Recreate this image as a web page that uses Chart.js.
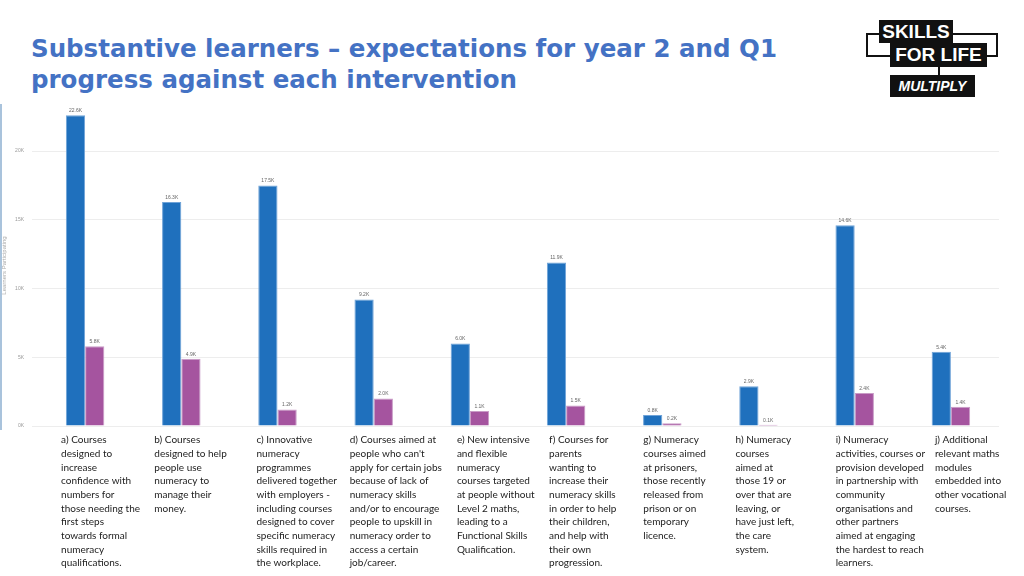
<!DOCTYPE html>
<html>
<head>
<meta charset="utf-8">
<script src="https://cdn.jsdelivr.net/npm/chart.js@4"></script>
<style>
  body { margin: 0; width: 1024px; height: 576px; background: #fff; position: relative; overflow: hidden; }
  #title { position: absolute; left: 31px; top: 33px; font-family: "DejaVu Sans", sans-serif; font-weight: bold;
           font-size: 24.5px; line-height: 31px; color: #4472c4; letter-spacing: 0; }
  #edge { position: absolute; left: 0; top: 104px; width: 2px; height: 326px; background: #a9c3dc; }
  #wrap { position: absolute; left: 0; top: 100px; width: 1024px; height: 476px; }
  .logo { position: absolute; font-family: "Liberation Sans", sans-serif; font-weight: bold; color: #fff; background: #111;
          text-align: center; }
</style>
</head>
<body>
<div id="title">Substantive learners – expectations for year 2 and Q1<br>progress against each intervention</div>
<div id="edge"></div>

<!-- logo -->
<div style="position:absolute;left:866px;top:33px;width:128px;height:20px;border:2px solid #111;"></div>
<div style="position:absolute;left:938px;top:66px;width:2px;height:10px;background:#111;"></div>
<div class="logo" style="left:879px;top:20px;width:74px;height:23px;font-size:19px;line-height:23px;">SKILLS</div>
<div class="logo" style="left:890px;top:43px;width:97px;height:24px;font-size:19px;line-height:24px;">FOR LIFE</div>
<div class="logo" style="left:890px;top:75px;width:85px;height:22px;font-size:14px;line-height:22px;font-style:italic;">MULTIPLY</div>

<div id="wrap"><canvas id="myChart"></canvas></div>

<script>
const categories = [
    ["a) Courses", "designed to", "increase", "confidence with", "numbers for", "those needing the", "first steps", "towards formal", "numeracy", "qualifications."],
    ["b) Courses", "designed to help", "people use", "numeracy to", "manage their", "money."],
    ["c) Innovative", "numeracy", "programmes", "delivered together", "with employers -", "including courses", "designed to cover", "specific numeracy", "skills required in", "the workplace."],
    ["d) Courses aimed at", "people who can't", "apply for certain jobs", "because of lack of", "numeracy skills", "and/or to encourage", "people to upskill in", "numeracy order to", "access a certain", "job/career."],
    ["e) New intensive", "and flexible", "numeracy", "courses targeted", "at people without", "Level 2 maths,", "leading to a", "Functional Skills", "Qualification."],
    ["f) Courses for", "parents", "wanting to", "increase their", "numeracy skills", "in order to help", "their children,", "and help with", "their own", "progression."],
    ["g) Numeracy", "courses aimed", "at prisoners,", "those recently", "released from", "prison or on", "temporary", "licence."],
    ["h) Numeracy", "courses", "aimed at", "those 19 or", "over that are", "leaving, or", "have just left,", "the care", "system."],
    ["i) Numeracy", "activities, courses or", "provision developed", "in partnership with", "community", "organisations and", "other partners", "aimed at engaging", "the hardest to reach", "learners."],
    ["j) Additional", "relevant maths", "modules", "embedded into", "other vocational", "courses."]
];

// learners participating
const expectedYear2 = [22600, 16300, 17500, 9200, 6000, 11900, 800, 2900, 14600, 5400];
const progressQ1 = [5800, 4900, 1200, 2000, 1100, 1500, 200, 100, 2400, 1400];

const yTicks = [0, 5000, 10000, 15000, 20000];

// how far each text column starts left of its category centre (px)
const labelShift = [-24, -27, -21, -24, -13, -17, -19, -23, -19, -16];

function fmtK(v, digits) {
    return (v / 1000).toFixed(digits) + 'K';
}

// small value labels above bars
const barLabels = {
    id: 'barLabels',
    afterDatasetsDraw(chart) {
        const ctx = chart.ctx;
        ctx.save();
        ctx.font = '5px "Liberation Sans", sans-serif';
        ctx.fillStyle = '#666';
        ctx.textAlign = 'center';
        ctx.textBaseline = 'bottom';
        chart.data.datasets.forEach(function (ds, i) {
            chart.getDatasetMeta(i).data.forEach(function (bar, j) {
                ctx.fillText(fmtK(ds.data[j], 1), bar.x, bar.y - 2);
            });
        });
        ctx.restore();
    }
};

// left aligned description columns under each group
const categoryText = {
    id: 'categoryText',
    afterDraw(chart) {
        const ctx = chart.ctx;
        const xs = chart.scales.x;
        const top = chart.chartArea.bottom + 14;
        ctx.save();
        ctx.font = '10px Lato, sans-serif';
        ctx.fillStyle = '#222';
        ctx.textAlign = 'left';
        ctx.textBaseline = 'middle';
        categories.forEach(function (lines, i) {
            const left = xs.getPixelForValue(i) + labelShift[i];
            lines.forEach(function (t, k) {
                ctx.fillText(t, left, top + k * 13.68);
            });
        });
        ctx.restore();
    }
};

const config = {
    type: 'bar',
    data: {
        labels: categories.map(function (c) { return c[0]; }),
        datasets: [
            {
                label: 'Expected year 2',
                data: expectedYear2,
                backgroundColor: '#1f70bd',
                borderColor: '#6fa3d8',
                borderWidth: 1
            },
            {
                label: 'Q1 progress',
                data: progressQ1,
                backgroundColor: '#a5549f',
                borderColor: '#c99bc6',
                borderWidth: 1
            }
        ]
    },
    options: {
        responsive: true,
        maintainAspectRatio: false,
        animation: false,
        layout: {
            padding: { top: 5, right: 25, left: 0, bottom: 0 }
        },
        plugins: {
            legend: { display: false },
            tooltip: { enabled: false }
        },
        datasets: {
            bar: {
                categoryPercentage: 0.4,
                barPercentage: 1.0
            }
        },
        scales: {
            x: {
                grid: { display: false, drawTicks: false },
                border: { display: false },
                ticks: { display: false },
                afterFit: function (scale) {
                    scale.height = 150;
                    scale.paddingLeft = 0;
                    scale.paddingRight = 0;
                }
            },
            y: {
                min: 0,
                max: 23350,
                afterBuildTicks: function (scale) {
                    scale.ticks = yTicks.map(function (v) { return { value: v }; });
                },
                grid: { color: '#ededed', tickLength: 5 },
                border: { display: false },
                ticks: {
                    padding: 8,
                    color: '#999',
                    font: { family: '"Liberation Sans", sans-serif', size: 5 },
                    callback: function (v) { return fmtK(v, 0); }
                },
                title: {
                    display: true,
                    text: 'Learners Participating',
                    color: '#aaa',
                    padding: 1,
                    font: { family: '"Liberation Sans", sans-serif', size: 6 }
                },
                afterFit: function (scale) {
                    scale.width = 37;
                    scale.paddingTop = 0;
                    scale.paddingBottom = 0;
                }
            }
        }
    },
    plugins: [barLabels, categoryText]
};

const myChart = new Chart(
    document.getElementById('myChart'),
    config
);
</script>
</body>
</html>
